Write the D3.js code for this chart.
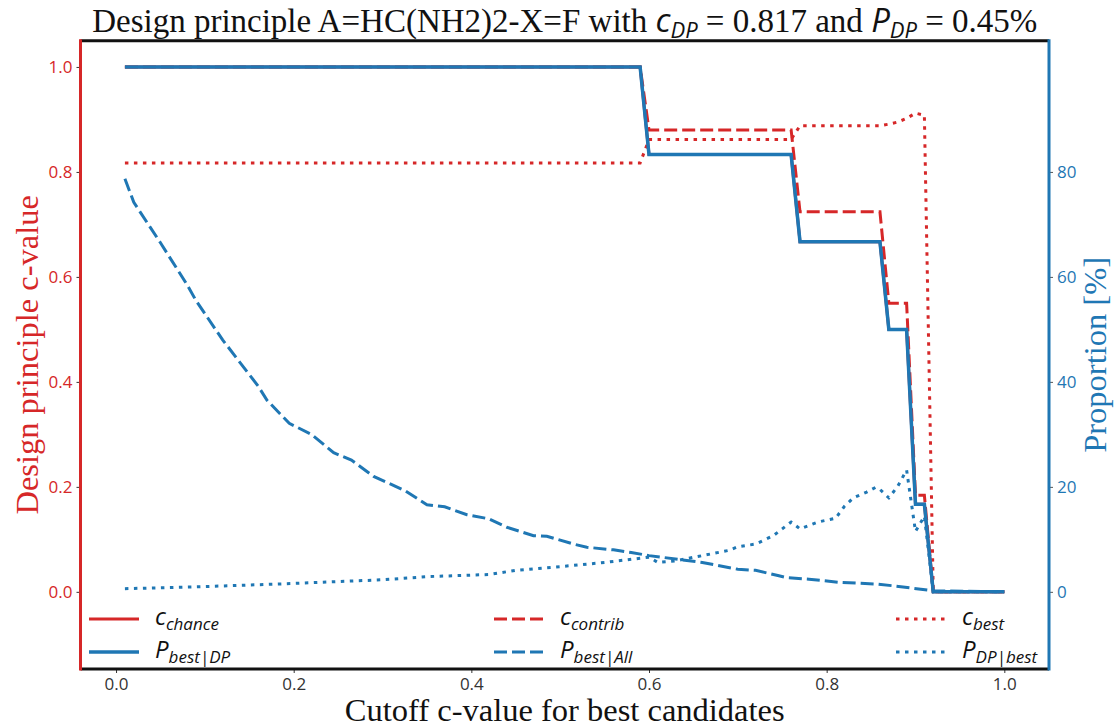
<!DOCTYPE html>
<html>
<head>
<meta charset="utf-8">
<script src="https://cdn.jsdelivr.net/npm/d3@7"></script>
<style>
  body { margin: 0; background: #fff; }
  svg { display: block; }
  .tick text { font-family: "Open Sans", sans-serif; font-size: 17px; }
</style>
</head>
<body>
<div id="chart"></div>
<script>
// ---- data ----
var cutoffTicks = [0, 0.2, 0.4, 0.6, 0.8, 1.0];
var cTicks = [0, 0.2, 0.4, 0.6, 0.8, 1.0];
var pctTicks = [0, 20, 40, 60, 80];

// left axis (c-value), [cutoff, value]
var cChance = [[0.01,1],[0.59,1],[0.60,0.833],[0.76,0.833],[0.77,0.667],[0.86,0.667],[0.87,0.5],[0.89,0.5],[0.90,0.167],[0.91,0.167],[0.92,0],[1.0,0]];
var cContrib = [[0.01,1],[0.59,1],[0.60,0.88],[0.76,0.88],[0.77,0.724],[0.86,0.724],[0.87,0.55],[0.89,0.55],[0.90,0.184],[0.91,0.184],[0.92,0],[1.0,0]];
var cBest = [[0.01,0.817],[0.59,0.817],[0.60,0.862],[0.76,0.862],[0.77,0.888],[0.86,0.888],[0.87,0.891],[0.88,0.895],[0.89,0.902],[0.90,0.912],[0.91,0.908],[0.92,0],[1.0,0]];

// right axis (proportion %), [cutoff, value]
var pBestDP = [[0.01,100],[0.59,100],[0.60,83.3],[0.76,83.3],[0.77,66.7],[0.86,66.7],[0.87,50],[0.89,50],[0.90,16.7],[0.91,16.7],[0.92,0],[1.0,0]];
var pBestAll = [[0.01,78.7],[0.02,74.2],[0.05,66.5],[0.08,58.5],[0.09,55.5],[0.12,48],[0.16,39.2],[0.17,36.5],[0.195,32.1],[0.22,30],[0.245,26.5],[0.265,25.1],[0.29,22],[0.325,19.3],[0.35,16.6],[0.37,16.2],[0.395,14.7],[0.42,13.9],[0.44,12.3],[0.47,10.7],[0.485,10.6],[0.515,9.1],[0.53,8.5],[0.56,8.0],[0.58,7.5],[0.60,6.9],[0.66,5.6],[0.70,4.3],[0.72,4.1],[0.745,3.1],[0.755,2.7],[0.78,2.4],[0.815,1.8],[0.855,1.5],[0.875,1.15],[0.92,0.2],[1.0,0]];
var pDPBest = [[0.01,0.6],[0.10,1.0],[0.20,1.6],[0.30,2.3],[0.35,2.9],[0.42,3.3],[0.45,4.1],[0.50,4.8],[0.55,5.6],[0.59,6.4],[0.60,6.6],[0.61,5.6],[0.63,5.9],[0.66,6.9],[0.69,7.9],[0.70,8.6],[0.72,9.1],[0.74,10.7],[0.75,12.0],[0.76,13.3],[0.77,12.0],[0.79,13.3],[0.81,14.0],[0.82,16.3],[0.83,17.9],[0.845,19.0],[0.855,19.9],[0.86,19.5],[0.87,17.9],[0.88,20.1],[0.89,23.2],[0.90,11.5],[0.91,14.4],[0.92,0],[1.0,0]];

var red = "#d62728", blue = "#1f77b4";

var width = 1115, height = 727,
    plotLeft = 80.5, plotRight = 1049, plotTop = 40.7, plotBottom = 669;

var svg = d3.select("#chart").append("svg")
    .attr("width", width)
    .attr("height", height);

var x = d3.scaleLinear().domain([-0.04, 1.0503]).range([plotLeft, plotRight]);
var yL = d3.scaleLinear().domain([-0.147, 1.05]).range([plotBottom, plotTop]);
var yR = d3.scaleLinear().domain([-14.7, 105]).range([plotBottom, plotTop]);

var lineL = d3.line().x(function(d){ return x(d[0]); }).y(function(d){ return yL(d[1]); });
var lineR = d3.line().x(function(d){ return x(d[0]); }).y(function(d){ return yR(d[1]); });

var dashed = "13,5", dotted = "3.5,5.5";

var series = [
    {data: cChance,  line: lineL, color: red,  dash: null,   lw: 3,   label: ["c", "chance"]},
    {data: cContrib, line: lineL, color: red,  dash: dashed, lw: 3,   label: ["c", "contrib"]},
    {data: cBest,    line: lineL, color: red,  dash: dotted, lw: 3,   label: ["c", "best"]},
    {data: pBestDP,  line: lineR, color: blue, dash: null,   lw: 3.5, label: ["P", "best|DP"]},
    {data: pBestAll, line: lineR, color: blue, dash: dashed, lw: 3,   label: ["P", "best|All"]},
    {data: pDPBest,  line: lineR, color: blue, dash: dotted, lw: 3,   label: ["P", "DP|best"]}
];

series.forEach(function(s){
    svg.append("path")
        .attr("d", s.line(s.data))
        .attr("fill", "none")
        .attr("stroke", s.color)
        .attr("stroke-width", s.lw)
        .attr("stroke-dasharray", s.dash)
        .attr("stroke-linejoin", "miter");
});

// axes
var gx = svg.append("g").attr("transform", "translate(0," + plotBottom + ")")
    .call(d3.axisBottom(x).tickValues(cutoffTicks).tickSize(4).tickPadding(5).tickFormat(d3.format(".1f")));
gx.select(".domain").remove();
gx.selectAll(".tick text").attr("fill", "#333");
gx.selectAll(".tick line").attr("stroke", "#333");

var gl = svg.append("g").attr("transform", "translate(" + plotLeft + ",0)")
    .call(d3.axisLeft(yL).tickValues(cTicks).tickSize(4).tickPadding(4).tickFormat(d3.format(".1f")));
gl.select(".domain").remove();
gl.selectAll(".tick text").attr("fill", red);
gl.selectAll(".tick line").attr("stroke", "#333");

var gr = svg.append("g").attr("transform", "translate(" + plotRight + ",0)")
    .call(d3.axisRight(yR).tickValues(pctTicks).tickSize(4).tickPadding(4).tickFormat(d3.format("d")));
gr.select(".domain").remove();
gr.selectAll(".tick text").attr("fill", blue);
gr.selectAll(".tick line").attr("stroke", "#555");

// spines
svg.append("line").attr("x1", plotLeft).attr("x2", plotRight).attr("y1", plotTop).attr("y2", plotTop)
    .attr("stroke", "#111").attr("stroke-width", 3);
svg.append("line").attr("x1", plotLeft).attr("x2", plotRight).attr("y1", plotBottom).attr("y2", plotBottom)
    .attr("stroke", "#111").attr("stroke-width", 3);
svg.append("line").attr("x1", plotLeft).attr("x2", plotLeft).attr("y1", plotTop - 1.5).attr("y2", plotBottom + 1.5)
    .attr("stroke", red).attr("stroke-width", 3);
svg.append("line").attr("x1", plotRight).attr("x2", plotRight).attr("y1", plotTop - 1.5).attr("y2", plotBottom + 1.5)
    .attr("stroke", blue).attr("stroke-width", 3);

// legend, 3 columns x 2 rows (column-major like matplotlib)
var legCols = [89, 494, 896], legRows = [619, 652];
series.forEach(function(s, i){
    var col = i % 3, row = Math.floor(i / 3);
    var lx = legCols[col], ly = legRows[row];
    svg.append("line")
        .attr("x1", lx).attr("x2", lx + 50).attr("y1", ly).attr("y2", ly)
        .attr("stroke", s.color).attr("stroke-width", s.lw)
        .attr("stroke-dasharray", s.dash);
    var t = svg.append("text")
        .attr("x", lx + 66).attr("y", ly + 6)
        .attr("font-family", "Open Sans, sans-serif")
        .attr("font-style", "italic")
        .attr("font-size", 24)
        .attr("fill", "#111");
    t.append("tspan").text(s.label[0]);
    t.append("tspan").attr("font-size", 17).attr("dy", 5).text(s.label[1]);
});

// title
var serif = "Liberation Serif, Times New Roman, serif",
    sans = "Open Sans, sans-serif";
var title = svg.append("text")
    .attr("x", (plotLeft + plotRight) / 2).attr("y", 32)
    .attr("text-anchor", "middle")
    .attr("font-family", serif)
    .attr("font-size", 33)
    .attr("fill", "#111");
title.append("tspan").text("Design principle A=HC(NH2)2-X=F with ");
title.append("tspan").attr("font-family", sans).attr("font-style", "italic").text("c");
title.append("tspan").attr("font-family", sans).attr("font-style", "italic")
    .attr("font-size", 22).attr("dy", 6).text("DP");
title.append("tspan").attr("dy", -6).text(" = 0.817 and ");
title.append("tspan").attr("font-family", sans).attr("font-style", "italic").text("P");
title.append("tspan").attr("font-family", sans).attr("font-style", "italic")
    .attr("font-size", 22).attr("dy", 6).text("DP");
title.append("tspan").attr("dy", -6).text(" = 0.45%");

// axis labels
svg.append("text")
    .attr("x", (plotLeft + plotRight) / 2).attr("y", 721)
    .attr("text-anchor", "middle")
    .attr("font-family", serif)
    .attr("font-size", 32.5)
    .attr("fill", "#111")
    .text("Cutoff c-value for best candidates");

svg.append("text")
    .attr("transform", "translate(38," + (plotTop + plotBottom) / 2 + ") rotate(-90)")
    .attr("text-anchor", "middle")
    .attr("font-family", serif)
    .attr("font-size", 32.5)
    .attr("fill", red)
    .text("Design principle c-value");

svg.append("text")
    .attr("transform", "translate(1106," + (plotTop + plotBottom) / 2 + ") rotate(-90)")
    .attr("text-anchor", "middle")
    .attr("font-family", serif)
    .attr("font-size", 32.5)
    .attr("fill", blue)
    .text("Proportion [%]");
</script>
</body>
</html>
